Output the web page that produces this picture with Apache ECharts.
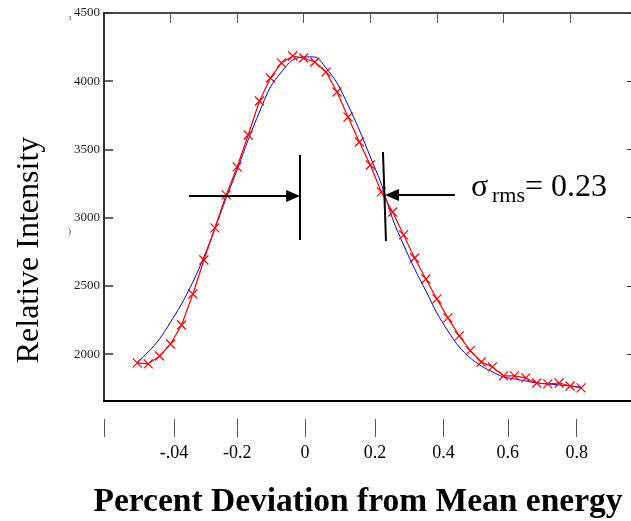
<!DOCTYPE html>
<html>
<head>
<meta charset="utf-8">
<script src="https://cdn.jsdelivr.net/npm/echarts@6/dist/echarts.min.js"></script>
<style>
  html, body { margin: 0; padding: 0; background: #fff; }
  #main { width: 631px; height: 521px; }
</style>
</head>
<body>
<div id="main"></div>
<script>
// percent deviation (x) of each measured point
var xValues = [-0.5, -0.467, -0.433, -0.4, -0.367, -0.333, -0.3, -0.267, -0.233, -0.2,
    -0.167, -0.133, -0.1, -0.067, -0.033, 0, 0.033, 0.067, 0.1, 0.133,
    0.167, 0.2, 0.233, 0.267, 0.3, 0.333, 0.367, 0.4, 0.433, 0.467,
    0.5, 0.533, 0.567, 0.6, 0.633, 0.667, 0.7, 0.733, 0.767, 0.8, 0.833];

// measured intensity (red crosses)
var measured = [1936, 1929, 1987, 2075, 2214, 2441, 2690, 2925, 3167, 3372,
    3606, 3855, 4024, 4134, 4185, 4170, 4141, 4068, 3921, 3738,
    3555, 3386, 3189, 3042, 2874, 2705, 2551, 2405, 2266, 2134,
    2026, 1943, 1907, 1841, 1841, 1826, 1789, 1782, 1789, 1767, 1753];

// fitted curve (blue)
var fitted = [1943, 2016, 2112, 2236, 2368, 2529, 2712, 2918, 3145, 3350,
    3570, 3775, 3958, 4068, 4156, 4178, 4178, 4097, 3987, 3826,
    3643, 3445, 3247, 2990, 2800, 2625, 2463, 2302, 2170, 2053,
    1973, 1914, 1870, 1833, 1819, 1804, 1789, 1782, 1775, 1767, 1760];

// y ticks
var yTicks = [2000, 2500, 3000, 3500, 4000, 4500];

// bottom tick marks (as drawn, slightly uneven) and their labels
var xTickPos = [-0.6, -0.39, -0.2, 0.004, 0.214, 0.42, 0.613, 0.82];
var xTickLabels = ['', '-.04', '-0.2', '0', '0.2', '0.4', '0.6', '0.8'];

// sigma markers: [x1, y1, x2, y2]
var leftBar = [-0.011, 3460, -0.011, 2837];
var leftArrow = [-0.345, 3159, -0.032, 3159];
var rightBar = [0.238, 3482, 0.247, 2830];
var rightArrow = [0.454, 3167, 0.265, 3167];

var serif = "'Liberation Serif', 'Times New Roman', serif";
var xMin = -0.6, xMax = 0.983;

function pairs(xs, ys) {
    var out = [];
    for (var i = 0; i < xs.length; i++) {
        out.push([xs[i], ys[i]]);
    }
    return out;
}

function seg(s, arrow) {
    return [
        { coord: [s[0], s[1]], symbol: 'none' },
        { coord: [s[2], s[3]], symbol: arrow ? 'triangle' : 'none', symbolSize: [12, 14] }
    ];
}

var myChart = echarts.init(document.getElementById('main'));

var option = {
    animation: false,
    backgroundColor: '#fff',
    grid: { left: 104, right: 0, top: 13, bottom: 120 },
    xAxis: [
        {
            type: 'value', position: 'bottom', min: xMin, max: xMax,
            axisLine: { onZero: false, lineStyle: { color: '#000', width: 2 } },
            axisTick: { show: false },
            axisLabel: { show: false },
            splitLine: { show: false }
        },
        {
            type: 'value', position: 'top', min: xMin, max: xMax,
            axisLine: { onZero: false, lineStyle: { color: '#111', width: 1.5 } },
            axisTick: { inside: true, length: 10, customValues: [-0.4, -0.2, 0, 0.2, 0.4, 0.6, 0.8], lineStyle: { color: '#555', width: 1 } },
            axisLabel: { show: false },
            splitLine: { show: false }
        },
        {
            type: 'value', position: 'bottom', offset: 18, min: xMin, max: xMax,
            axisLine: { show: false, onZero: false },
            axisTick: { show: true, customValues: xTickPos, length: 18, lineStyle: { color: '#555', width: 1 } },
            axisLabel: {
                customValues: xTickPos,
                margin: 25,
                fontFamily: serif,
                fontSize: 18,
                color: '#000',
                formatter: function(v) {
                    for (var i = 0; i < xTickPos.length; i++) {
                        if (Math.abs(xTickPos[i] - v) < 1e-6) return xTickLabels[i];
                    }
                    return '';
                }
            },
            splitLine: { show: false }
        }
    ],
    yAxis: [
        {
            type: 'value', position: 'left', min: 1657, max: 4500,
            axisLine: { show: true, onZero: false, lineStyle: { color: '#333', width: 2 } },
            axisTick: { show: true, inside: true, length: 9, customValues: yTicks, lineStyle: { color: '#333', width: 1.5 } },
            axisLabel: {
                customValues: yTicks, margin: 4, fontFamily: serif, fontSize: 13, color: '#222',
                formatter: function(v) { return String(v); }
            },
            splitLine: { show: false }
        },
        {
            type: 'value', position: 'right', min: 1657, max: 4500,
            axisLine: { show: false, onZero: false },
            axisTick: { show: true, inside: true, length: 4, customValues: yTicks, lineStyle: { color: '#333', width: 1 } },
            axisLabel: { show: false },
            splitLine: { show: false }
        }
    ],
    series: [
        {
            name: 'fit',
            type: 'line',
            xAxisIndex: 0,
            yAxisIndex: 0,
            data: pairs(xValues, fitted),
            smooth: 0.3,
            showSymbol: false,
            lineStyle: { color: '#0000ff', width: 1 },
            z: 2
        },
        {
            name: 'measured',
            type: 'line',
            xAxisIndex: 0,
            yAxisIndex: 0,
            data: pairs(xValues, measured),
            symbol: 'path://M0,0L10,10M10,0L0,10',
            symbolSize: 9,
            lineStyle: { color: '#ff0000', width: 1.2 },
            itemStyle: { color: '#ff0000', borderColor: '#ff0000', borderWidth: 1.2 },
            z: 3,
            markLine: {
                silent: true,
                symbol: 'none',
                label: { show: false },
                lineStyle: { color: '#000', width: 2, type: 'solid' },
                data: [
                    seg(leftBar, false),
                    seg(leftArrow, true),
                    seg(rightBar, false),
                    seg(rightArrow, true)
                ]
            }
        }
    ],
    graphic: [
        {
            type: 'text', x: 30, y: 250, rotation: Math.PI / 2,
            style: { text: 'Relative Intensity', font: '32px ' + serif, fill: '#000', align: 'center', verticalAlign: 'middle' }
        },
        {
            type: 'text', x: 358, y: 502,
            style: { text: 'Percent Deviation from Mean energy', font: 'bold 33.5px ' + serif, fill: '#000', align: 'center', verticalAlign: 'middle' }
        },
        {
            type: 'text', x: 471, y: 188,
            style: { text: 'σ', font: '32px ' + serif, fill: '#000', align: 'left', verticalAlign: 'middle' }
        },
        {
            type: 'text', x: 492, y: 196,
            style: { text: 'rms', font: '22px ' + serif, fill: '#000', align: 'left', verticalAlign: 'middle' }
        },
        {
            type: 'text', x: 525, y: 188,
            style: { text: '= 0.23', font: '32px ' + serif, fill: '#000', align: 'left', verticalAlign: 'middle' }
        },
        {
            type: 'text', x: 68, y: 18,
            style: { text: '3', font: '7px ' + serif, fill: '#444', align: 'left', verticalAlign: 'middle' }
        },
        {
            type: 'text', x: 68, y: 232,
            style: { text: ')', font: '9px ' + serif, fill: '#444', align: 'left', verticalAlign: 'middle' }
        }
    ]
};

myChart.setOption(option);
</script>
</body>
</html>
